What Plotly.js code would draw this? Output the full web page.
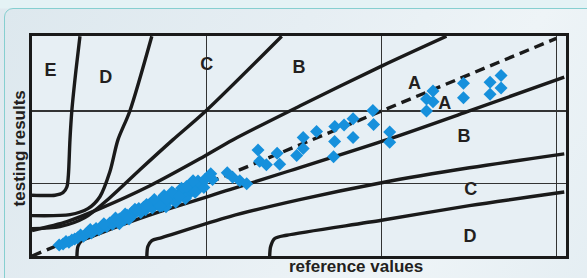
<!DOCTYPE html>
<html><head><meta charset="utf-8">
<script src="https://cdn.plot.ly/plotly-3.0.1.min.js"></script>
<style>
html,body{margin:0;padding:0;width:587px;height:278px;overflow:hidden;
background:linear-gradient(180deg,#e4f2f5 0px,#e4f2f5 8px,#dfe9ef 9px,#e3ecf2 100%);}
#panel{position:absolute;left:4px;top:8px;width:600px;height:300px;border:1.5px solid #86cfd0;border-radius:9px;
background:linear-gradient(120deg,#dde8ee 0%,#e6eef3 40%,#eef4f7 70%,#e3edf2 100%);}
#chart{position:absolute;left:0;top:0;width:587px;height:278px;}
</style></head>
<body><div id="panel"></div><div id="chart"></div>
<script>
// zone boundary lines (reference value, testing result)
const u1x=[0,23.7,31.9,36.0,37.5,39.1,41.1,45.3,49.4];
const u1y=[150.9,150.9,157.1,171.9,201.6,288.2,362.5,461.4,545.5];
const u2x=[0,39.1,57.6,69.9,80.2,88.5,100.8,123.4];
const u2y=[100.2,102.7,117.5,147.2,209.1,288.2,360.0,545.5];
const u3x=[0,28.8,54.5,80.2,111.1,145.0,179.0,257.2];
const u3y=[68.0,72.9,95.2,144.7,214.0,288.2,360.0,545.5];
const u4x=[0,36.0,69.9,121.4,172.8,206.7,275.7,360.0,426.9];
const u4y=[63.1,85.4,117.5,174.4,241.2,288.2,372.3,471.3,545.5];
const l1x=[46.3,47.3,51.4,61.7,90.5,131.7,203.7,262.3,368.2,450.5,548.2];
const l1y=[0,23.5,38.4,48.2,75.4,110.1,164.5,209.1,290.7,360.0,444.1];
const l2x=[118.3,119.3,123.4,133.7,203.7,275.7,360.0,450.5,548.2];
const l2y=[0,23.5,38.4,45.8,97.7,139.8,181.8,218.9,253.6];
const l3x=[244.8,245.8,250.0,262.3,360.0,450.5,548.2];
const l3y=[0,23.5,43.3,51.5,88.6,124.9,158.8];
const idx=[0,540];
const idy=[0,540];
// measurements
const refVals=[28,32,35,38,41,44,47,50,53,56,58,61,64,66,69,72,75,77,80,83,85,88,90,93,95,98,100,103,105,108,110,112,115,117,120,122,124,127,130,132,134,137,140,142,145,147,150,152,155,157,160,162,165,167,170,172,175,177,
60,74,86,96,106,118,126,136,144,154,163,171,178,168,158,148,138,100,90,186,
131.7,138.5,145.3,152.2,159.1,165.9,184.1,201.1,206.7,214.0,221.1,232.8,252.5,234.5,241.4,255.1,272.6,279.3,310.6,279.3,293.1,311.9,321.4,330.7,351.1,351.8,311.7,330.7,368.4,368.4,406.3,413.0,406.3,413.0,444.4,444.4,471.8,483.1,483.1,471.8];
const testVals=[27,30,36,34,40,42,45,52,49,55,60,57,63,68,65,71,76,73,82,79,88,85,92,95,90,101,97,108,104,112,118,108,121,115,126,130,119,133,128,138,125,142,136,147,140,151,145,156,160,149,163,155,168,172,164,175,180,170,
66,80,94,104,116,128,140,150,158,168,177,186,190,158,143,134,122,92,80,190,
123.2,139.8,156.4,147.9,172.7,186.8,204.1,206.6,195.4,186.8,179.4,262.8,254.8,235.0,226.4,227.6,249.4,266.7,246.2,294.4,308.8,321.1,325.3,340.9,361.2,326.1,284.0,294.4,307.5,282.0,389.7,409.4,360.0,383.0,428.5,392.9,431.0,447.8,416.9,401.3];
const zoneLabels=['E','D','C','B','A','A','B','C','D'];
const zoneX=[19,76,180,275,394,425,445,452,451];
const zoneY=[459,440,472,465,425,375,293,162,45];

const black='#1a1a1a';
const font='Liberation Sans, Arial, sans-serif';
function zl(x,y){return {x:x,y:y,mode:'lines',type:'scatter',line:{color:black,width:3.4,shape:'spline',smoothing:0.8},hoverinfo:'skip',showlegend:false};}
const traces=[zl(u1x,u1y),zl(u2x,u2y),zl(u3x,u3y),zl(u4x,u4y),zl(l1x,l1y),zl(l2x,l2y),zl(l3x,l3y),
 {x:idx,y:idy,mode:'lines',type:'scatter',line:{color:black,width:3.4,dash:'10px,6px'},showlegend:false},
 {x:refVals,y:testVals,mode:'markers',type:'scatter',marker:{symbol:'diamond',size:10,color:'#1690dc'},showlegend:false},
 {x:zoneX,y:zoneY,mode:'text',type:'scatter',text:zoneLabels.map(t=>'<b>'+t+'</b>'),textfont:{family:font,size:18,color:'#231f20'},showlegend:false}
];
const layout={width:587,height:278,margin:{l:32,r:21,t:36,b:22},
 paper_bgcolor:'rgba(0,0,0,0)',plot_bgcolor:'#e7eff4',
 xaxis:{range:[0,550],tickvals:[180,360,540],showticklabels:false,ticks:'',showgrid:true,gridcolor:'#333',gridwidth:1.3,zeroline:false,showline:true,mirror:true,linecolor:black,linewidth:3},
 yaxis:{range:[0,546],tickvals:[180,360],showticklabels:false,ticks:'',showgrid:true,gridcolor:'#333',gridwidth:1.3,zeroline:false,showline:true,mirror:true,linecolor:black,linewidth:3},
 annotations:[
  {text:'<b>reference values</b>',xref:'paper',yref:'paper',x:0.607,y:-0.046,xanchor:'center',yanchor:'middle',showarrow:false,borderpad:0,font:{family:font,size:17,color:'#231f20'}},
  {text:'<b>testing results</b>',xref:'paper',yref:'paper',x:-0.024,y:0.49,xanchor:'center',yanchor:'middle',textangle:-90,showarrow:false,borderpad:0,font:{family:font,size:17,color:'#231f20'}}
 ]};
Plotly.newPlot('chart',traces,layout,{staticPlot:true});
</script></body></html>
